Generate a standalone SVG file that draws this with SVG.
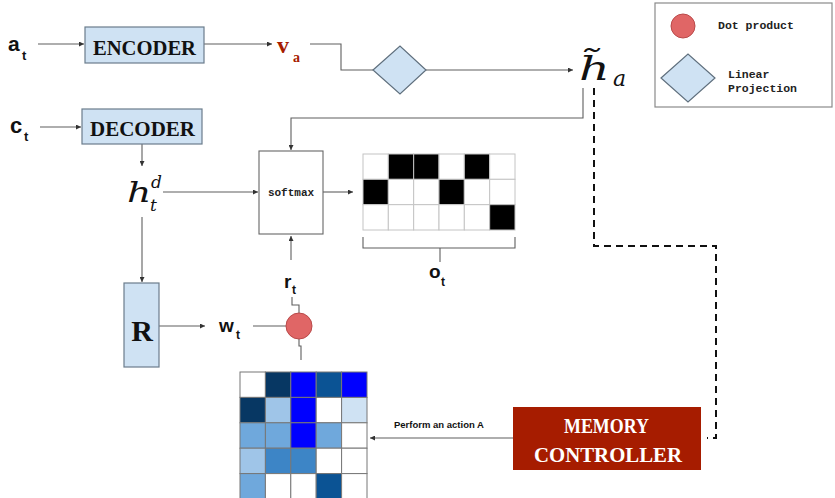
<svg xmlns="http://www.w3.org/2000/svg" width="835" height="498" viewBox="0 0 835 498">
  <style>
    .conn { fill: none; stroke: #5f5f5f; stroke-width: 1.1; }
    .dash { fill: none; stroke: #111; stroke-width: 2; stroke-dasharray: 7 5; }
    .block { fill: #cfe2f3; stroke: #6b7c8c; stroke-width: 1.2; }
    .mono { font-family: "Liberation Mono", "DejaVu Sans Mono", monospace; font-weight: bold; }
    .slab { font-family: "Liberation Serif", "DejaVu Serif", serif; font-weight: bold; }
    .sans { font-family: "Liberation Sans", Arial, sans-serif; font-weight: bold; fill: #111; }
    .math { font-family: "DejaVu Serif", "Liberation Serif", serif; font-style: italic; fill: #111; }
    .cellw { fill: #fff; stroke: #c4c4c4; stroke-width: 1; }
    .cellk { fill: #000; stroke: #c4c4c4; stroke-width: 1; }
    .mcell { stroke: #777; stroke-width: 1; }
  </style>
  <defs>
    <marker id="arrow" viewBox="0 0 6 6" refX="6" refY="3" markerWidth="5" markerHeight="5" orient="auto" markerUnits="userSpaceOnUse">
      <path d="M0,0 L6,3 L0,6 z" fill="#333"/>
    </marker>
  </defs>

  <rect width="835" height="498" fill="#fff"/>

  <!-- connectors -->
  <g id="connectors">
    <line class="conn" x1="38" y1="44" x2="84" y2="44" marker-end="url(#arrow)"/>
    <line class="conn" x1="204" y1="44" x2="272" y2="44" marker-end="url(#arrow)"/>
    <polyline class="conn" points="310,44 341,44 341,70 373,70"/>
    <line class="conn" x1="426" y1="70" x2="573" y2="70" marker-end="url(#arrow)"/>
    <polyline class="conn" points="583,88 583,118 291,118 291,150" marker-end="url(#arrow)"/>
    <line class="conn" x1="40" y1="127" x2="81" y2="127" marker-end="url(#arrow)"/>
    <line class="conn" x1="142" y1="144" x2="142" y2="166" marker-end="url(#arrow)"/>
    <line class="conn" x1="163" y1="192" x2="258" y2="192" marker-end="url(#arrow)"/>
    <line class="conn" x1="323" y1="192" x2="353" y2="192" marker-end="url(#arrow)"/>
    <line class="conn" x1="142" y1="217" x2="142" y2="282" marker-end="url(#arrow)"/>
    <line class="conn" x1="291" y1="260" x2="291" y2="236" marker-end="url(#arrow)"/>
    <line class="conn" x1="159" y1="326" x2="205" y2="326" marker-end="url(#arrow)"/>
    <line class="conn" x1="253" y1="326" x2="286" y2="326"/>
    <polyline class="conn" points="292,297 292,305 299,305 299,313"/>
    <polyline class="conn" points="299,339 299,346 301,346 301,360"/>
    <line class="conn" x1="513" y1="438" x2="370" y2="438" marker-end="url(#arrow)"/>
    <polyline class="dash" points="594,88 594,246 716,246 716,438 707,438"/>
  </g>

  <!-- inputs -->
  <g id="input-a">
    <text class="sans" x="8" y="51" font-size="21">a</text>
    <text class="sans" x="22" y="60" font-size="13">t</text>
  </g>
  <g id="input-c">
    <text class="sans" x="10" y="133" font-size="22">c</text>
    <text class="sans" x="24" y="141" font-size="13">t</text>
  </g>

  <g id="encoder">
    <rect class="block" x="85" y="27" width="119" height="36"/>
    <text class="slab" x="93" y="55" font-size="22" textLength="103" lengthAdjust="spacingAndGlyphs" fill="#111">ENCODER</text>
  </g>
  <g id="decoder">
    <rect class="block" x="82" y="109" width="120" height="35"/>
    <text class="slab" x="90" y="136" font-size="22" textLength="105" lengthAdjust="spacingAndGlyphs" fill="#111">DECODER</text>
  </g>

  <g id="va">
    <text class="slab" x="277" y="53" font-size="24" fill="#a61c00">v</text>
    <text class="slab" x="293" y="62" font-size="14" fill="#a61c00">a</text>
  </g>

  <g id="projection">
    <polygon points="373,70 400,46 426,70 400,94" fill="#cfe2f3" stroke="#5f6f7d" stroke-width="1.2"/>
  </g>

  <g id="h-a">
    <text class="math" transform="translate(579,80) scale(1.45,1)" x="0" y="0" font-size="33">h&#x303;</text>
    <text class="math" x="613" y="86" font-size="22">a</text>
  </g>

  <g id="h-t-d">
    <text class="math" transform="translate(127,202) scale(1.35,1)" x="0" y="0" font-size="28">h</text>
    <text class="math" x="151" y="188" font-size="17">d</text>
    <text class="math" x="150" y="211" font-size="17">t</text>
  </g>

  <g id="softmax">
    <rect x="259" y="151" width="64" height="83" fill="#fff" stroke="#666" stroke-width="1.1"/>
    <text class="mono" x="291" y="196" font-size="11" text-anchor="middle" fill="#222">softmax</text>
  </g>

  <g id="output-grid">
    <rect class="cellw" x="363" y="154" width="25.33" height="25.33"/>
    <rect class="cellk" x="388.33" y="154" width="25.33" height="25.33"/>
    <rect class="cellk" x="413.67" y="154" width="25.33" height="25.33"/>
    <rect class="cellw" x="439" y="154" width="25.33" height="25.33"/>
    <rect class="cellk" x="464.33" y="154" width="25.33" height="25.33"/>
    <rect class="cellw" x="489.67" y="154" width="25.33" height="25.33"/>
    <rect class="cellk" x="363" y="179.33" width="25.33" height="25.33"/>
    <rect class="cellw" x="388.33" y="179.33" width="25.33" height="25.33"/>
    <rect class="cellw" x="413.67" y="179.33" width="25.33" height="25.33"/>
    <rect class="cellk" x="439" y="179.33" width="25.33" height="25.33"/>
    <rect class="cellw" x="464.33" y="179.33" width="25.33" height="25.33"/>
    <rect class="cellw" x="489.67" y="179.33" width="25.33" height="25.33"/>
    <rect class="cellw" x="363" y="204.67" width="25.33" height="25.33"/>
    <rect class="cellw" x="388.33" y="204.67" width="25.33" height="25.33"/>
    <rect class="cellw" x="413.67" y="204.67" width="25.33" height="25.33"/>
    <rect class="cellw" x="439" y="204.67" width="25.33" height="25.33"/>
    <rect class="cellw" x="464.33" y="204.67" width="25.33" height="25.33"/>
    <rect class="cellk" x="489.67" y="204.67" width="25.33" height="25.33"/>
    <polyline class="conn" points="363,237 363,248 515,248 515,237"/>
    <line class="conn" x1="440" y1="248" x2="440" y2="262"/>
  </g>
  <g id="o-t">
    <text class="sans" x="429" y="278" font-size="19">o</text>
    <text class="sans" x="441" y="286" font-size="12">t</text>
  </g>

  <g id="r-t">
    <text class="sans" x="284" y="288" font-size="19">r</text>
    <text class="sans" x="292" y="294" font-size="12">t</text>
  </g>

  <g id="R">
    <rect class="block" x="124" y="283" width="35" height="84"/>
    <text class="slab" x="142" y="341" font-size="30" text-anchor="middle" fill="#111">R</text>
  </g>

  <g id="w-t">
    <text class="sans" x="219" y="332" font-size="19">w</text>
    <text class="sans" x="236" y="339" font-size="12">t</text>
  </g>

  <g id="dot-product">
    <circle cx="299" cy="326" r="13" fill="#e06666" stroke="#b94a4a" stroke-width="1"/>
  </g>

  <g id="memory">
    <rect class="mcell" x="240" y="372" width="25.4" height="25.4" fill="#fff"/>
    <rect class="mcell" x="265.4" y="372" width="25.4" height="25.4" fill="#073763"/>
    <rect class="mcell" x="290.8" y="372" width="25.4" height="25.4" fill="#0000ff"/>
    <rect class="mcell" x="316.2" y="372" width="25.4" height="25.4" fill="#0b5394"/>
    <rect class="mcell" x="341.6" y="372" width="25.4" height="25.4" fill="#0000ff"/>
    <rect class="mcell" x="240" y="397.4" width="25.4" height="25.4" fill="#073763"/>
    <rect class="mcell" x="265.4" y="397.4" width="25.4" height="25.4" fill="#9fc5e8"/>
    <rect class="mcell" x="290.8" y="397.4" width="25.4" height="25.4" fill="#0000ff"/>
    <rect class="mcell" x="316.2" y="397.4" width="25.4" height="25.4" fill="#fff"/>
    <rect class="mcell" x="341.6" y="397.4" width="25.4" height="25.4" fill="#cfe2f3"/>
    <rect class="mcell" x="240" y="422.8" width="25.4" height="25.4" fill="#6fa8dc"/>
    <rect class="mcell" x="265.4" y="422.8" width="25.4" height="25.4" fill="#6fa8dc"/>
    <rect class="mcell" x="290.8" y="422.8" width="25.4" height="25.4" fill="#0000ff"/>
    <rect class="mcell" x="316.2" y="422.8" width="25.4" height="25.4" fill="#6fa8dc"/>
    <rect class="mcell" x="341.6" y="422.8" width="25.4" height="25.4" fill="#fff"/>
    <rect class="mcell" x="240" y="448.2" width="25.4" height="25.4" fill="#9fc5e8"/>
    <rect class="mcell" x="265.4" y="448.2" width="25.4" height="25.4" fill="#3d85c6"/>
    <rect class="mcell" x="290.8" y="448.2" width="25.4" height="25.4" fill="#3d85c6"/>
    <rect class="mcell" x="316.2" y="448.2" width="25.4" height="25.4" fill="#fff"/>
    <rect class="mcell" x="341.6" y="448.2" width="25.4" height="25.4" fill="#fff"/>
    <rect class="mcell" x="240" y="473.6" width="25.4" height="25.4" fill="#6fa8dc"/>
    <rect class="mcell" x="265.4" y="473.6" width="25.4" height="25.4" fill="#fff"/>
    <rect class="mcell" x="290.8" y="473.6" width="25.4" height="25.4" fill="#fff"/>
    <rect class="mcell" x="316.2" y="473.6" width="25.4" height="25.4" fill="#0b5394"/>
    <rect class="mcell" x="341.6" y="473.6" width="25.4" height="25.4" fill="#fff"/>
  </g>

  <g id="action-label">
    <text class="sans" x="394" y="428" font-size="9.5">Perform an action A</text>
  </g>

  <g id="memory-controller">
    <rect x="513" y="407" width="188" height="63" fill="#a61c00"/>
    <text class="slab" x="564" y="433" font-size="22" textLength="85" lengthAdjust="spacingAndGlyphs" fill="#fff">MEMORY</text>
    <text class="slab" x="534" y="462" font-size="22" textLength="148" lengthAdjust="spacingAndGlyphs" fill="#fff">CONTROLLER</text>
  </g>

  <g id="legend">
    <rect x="655" y="3" width="177" height="104" fill="#fff" stroke="#8a8a8a" stroke-width="1.2"/>
    <circle cx="683" cy="26" r="12" fill="#e06666" stroke="#b94a4a" stroke-width="1"/>
    <text class="mono" x="718" y="29" font-size="11.5" fill="#222">Dot product</text>
    <polygon points="661,78 688,54 715,78 688,102" fill="#cfe2f3" stroke="#5f6f7d" stroke-width="1.2"/>
    <text class="mono" x="728" y="78" font-size="11.5" fill="#222">Linear</text>
    <text class="mono" x="728" y="92" font-size="11.5" fill="#222">Projection</text>
  </g>
</svg>
